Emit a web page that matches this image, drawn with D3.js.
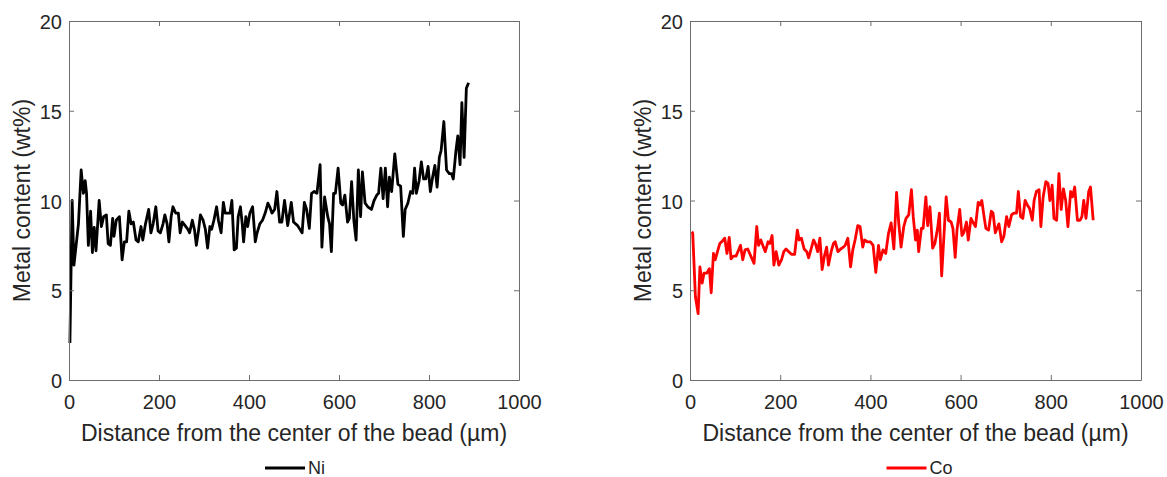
<!DOCTYPE html>
<html>
<head>
<meta charset="utf-8">
<script src="https://cdn.jsdelivr.net/npm/d3@7/dist/d3.min.js"></script>
<style>
  html, body { margin: 0; padding: 0; background: #fff; }
  svg { display: block; }
  text { font-family: "Liberation Sans", Arial, Helvetica, sans-serif; fill: #262626; }
</style>
</head>
<body>
<svg id="chart" width="1167" height="477"></svg>
<script>
// ---- Data ----
const xTicks = [0, 200, 400, 600, 800, 1000];
const yTicks = [0, 5, 10, 15, 20];
const xLabel = "Distance from the center of the bead (\u00b5m)";
const yLabel = "Metal content (wt%)";

const niX = [2,7,11,21,27,32,36,39,43,48,52,56,60,67,72,77,83,87,92,97,100,105,112,118,123,128,133,138,143,149,154,160,164,170,177,182,187,193,198,203,209,213,218,222,227,231,237,243,247,252,258,264,268,274,279,283,288,292,298,303,308,313,317,322,328,332,338,343,347,353,358,362,367,372,376,381,385,388,393,397,402,408,414,418,424,430,436,442,446,451,457,462,468,473,479,486,494,499,508,518,523,528,534,539,545,551,558,562,568,575,579,583,588,592,598,604,608,613,619,623,628,633,638,643,648,652,658,664,672,678,684,688,693,698,703,708,712,717,724,731,737,743,747,753,759,764,768,772,778,783,788,793,798,803,808,813,818,823,827,833,839,845,850,854,860,864,869,873,878,883,888];
const niY = [2.06,10.0,6.4,8.7,11.7,10.4,11.1,10.4,7.5,9.4,7.1,8.5,7.2,10.0,8.55,9.1,9.2,7.6,7.5,9.0,8.0,8.9,9.1,6.7,7.7,7.7,9.4,8.7,8.8,7.8,7.7,8.55,7.8,8.7,9.5,8.2,8.7,9.65,8.3,8.2,8.7,9.2,8.7,7.7,9.1,9.65,9.3,9.3,8.2,8.8,8.6,8.4,8.2,8.9,8.35,7.5,8.35,9.2,8.9,8.4,7.35,8.55,8.4,8.9,9.65,8.9,8.2,9.9,9.3,9.3,9.3,10.0,7.25,7.35,9.1,9.65,8.7,7.7,9.1,8.55,9.3,9.65,7.7,8.2,8.7,8.9,9.3,9.85,9.65,9.3,9.5,10.5,8.8,8.8,10.0,8.6,9.9,8.8,8.6,8.2,9.9,9.5,8.45,10.4,10.5,10.4,12.0,7.4,10.2,9.1,8.7,7.15,10.4,10.4,11.8,9.85,9.75,10.3,8.8,9.0,11.05,8.9,7.8,11.7,9.1,11.6,9.85,9.65,9.5,10.0,10.3,10.4,11.8,10.1,11.8,9.65,11.3,10.5,12.6,10.9,10.8,8.0,9.5,9.85,10.5,10.4,11.8,10.4,11.1,12.15,11.2,11.2,11.9,10.5,11.3,11.95,10.75,12.4,12.8,14.4,11.7,11.5,11.5,11.2,12.8,13.6,12.0,15.45,12.4,16.25,16.56];

const coX = [4,6,12,18,22,27,31,37,43,47,52,56,62,66,72,77,82,87,91,96,102,108,112,117,122,128,134,142,148,152,157,163,167,173,177,182,186,191,197,203,208,213,219,225,232,238,242,247,253,259,263,268,274,278,283,288,293,298,303,307,313,318,322,328,334,340,344,350,356,361,366,372,377,383,387,393,400,406,412,418,422,428,434,440,446,452,458,463,468,474,479,485,491,495,500,504,507,513,517,523,527,532,538,543,549,553,558,563,568,573,579,583,588,592,598,603,607,613,617,623,627,633,639,643,647,652,656,662,668,672,677,681,685,691,696,702,707,713,718,724,728,733,738,743,748,753,759,763,768,774,778,783,789,794,798,803,807,813,818,823,828,833,838,844,848,853,859,865,869,873,878,884,888,894];
const coY = [8.26,8.2,4.64,3.7,6.3,5.4,5.95,5.95,6.2,4.86,7.05,6.7,7.25,7.6,7.75,7.9,7.05,7.95,6.75,6.9,6.9,7.25,7.5,6.7,7.25,7.3,6.95,6.5,8.55,7.5,7.8,7.4,7.15,7.7,7.6,8.05,6.4,7.15,6.4,6.7,7.15,7.3,7.15,7.0,7.0,8.35,7.8,7.9,7.3,7.15,6.8,7.25,7.8,7.6,7.15,7.9,6.15,6.9,7.4,6.4,7.15,7.6,7.7,7.15,7.3,7.4,7.5,7.9,6.3,7.25,7.8,8.6,8.55,7.4,7.8,7.7,7.7,7.5,6.0,7.5,6.7,7.25,7.05,8.15,8.75,7.3,10.45,8.7,7.4,8.55,9.0,9.2,10.6,9.1,7.8,8.35,7.15,8.45,8.45,10.2,8.6,9.65,7.35,7.6,8.45,9.3,5.8,8.0,10.2,8.9,8.8,8.45,6.83,8.35,9.5,8.05,8.2,8.8,7.8,9.0,8.8,8.55,9.9,9.75,10.0,9.1,8.45,8.35,9.4,9.3,8.2,8.45,8.7,7.7,8.0,9.1,8.55,9.2,9.3,9.3,10.5,9.1,9.0,10.0,9.75,9.55,8.9,10.0,10.5,10.6,8.55,10.2,11.05,10.95,10.0,10.85,9.0,8.9,11.5,9.5,10.65,10.0,8.55,10.5,10.2,10.75,8.9,8.9,9.1,10.0,9.0,10.5,10.75,8.9];

const panels = [
  { left: 69,  right: 519,  xs: niX, ys: niY, color: "#000000", name: "Ni" },
  { left: 690, right: 1141, xs: coX, ys: coY, color: "#ff0000", name: "Co" }
];

const plotTop = 21, plotBottom = 380;
const svg = d3.select("#chart");
const axisColor = "#6e6e6e";
const tickFont = "20px";
const fmt = d3.format("d");

panels.forEach(p => {
  const x = d3.scaleLinear().domain([0, 1000]).range([p.left, p.right]);
  const y = d3.scaleLinear().domain([0, 20]).range([plotBottom, plotTop]);
  const g = svg.append("g");

  // data line
  const pts = p.xs.map((v, i) => [v, p.ys[i]]);
  g.append("path")
    .datum(pts)
    .attr("fill", "none")
    .attr("stroke", p.color)
    .attr("stroke-width", 2.8)
    .attr("stroke-linejoin", "round")
    .attr("d", d3.line().x(d => x(d[0])).y(d => y(d[1])));

  // axes
  const styleAxis = sel => {
    sel.selectAll(".domain").attr("stroke", axisColor);
    sel.selectAll(".tick line").attr("stroke", axisColor);
    sel.attr("font-family", null).attr("font-size", null);
  };

  const bx = g.append("g").attr("transform", `translate(0,${plotBottom})`)
    .call(d3.axisBottom(x).tickValues(xTicks).tickFormat(fmt).tickSize(-5).tickSizeOuter(0));
  styleAxis(bx);
  bx.selectAll(".tick text").attr("y", 29).attr("dy", null)
    .style("font-size", tickFont).attr("fill", "#262626");

  const ly = g.append("g").attr("transform", `translate(${p.left},0)`)
    .call(d3.axisLeft(y).tickValues(yTicks).tickFormat(fmt).tickSize(-5).tickSizeOuter(0));
  styleAxis(ly);
  ly.selectAll(".tick text").attr("x", -7).attr("dy", "7.5px")
    .style("font-size", tickFont).attr("fill", "#262626");

  const tx = g.append("g").attr("transform", `translate(0,${plotTop})`)
    .call(d3.axisTop(x).tickValues(xTicks).tickSize(-5).tickSizeOuter(0).tickFormat(""));
  styleAxis(tx);

  const ry = g.append("g").attr("transform", `translate(${p.right},0)`)
    .call(d3.axisRight(y).tickValues(yTicks).tickSize(-5).tickSizeOuter(0).tickFormat(""));
  styleAxis(ry);

  // axis labels
  const cx = (p.left + p.right) / 2;
  g.append("text")
    .attr("x", cx).attr("y", 441)
    .attr("text-anchor", "middle")
    .style("font-size", "23px")
    .text(xLabel);

  g.append("text")
    .attr("transform", `translate(${p.left - 39},${(plotTop + plotBottom) / 2}) rotate(-90)`)
    .attr("text-anchor", "middle")
    .style("font-size", "23px")
    .text(yLabel);

  // legend
  g.append("line")
    .attr("x1", cx - 29).attr("x2", cx + 11)
    .attr("y1", 468).attr("y2", 468)
    .attr("stroke", p.color).attr("stroke-width", 2.8);
  g.append("text")
    .attr("x", cx + 14).attr("y", 474)
    .style("font-size", "18px")
    .text(p.name);
});
</script>
</body>
</html>
